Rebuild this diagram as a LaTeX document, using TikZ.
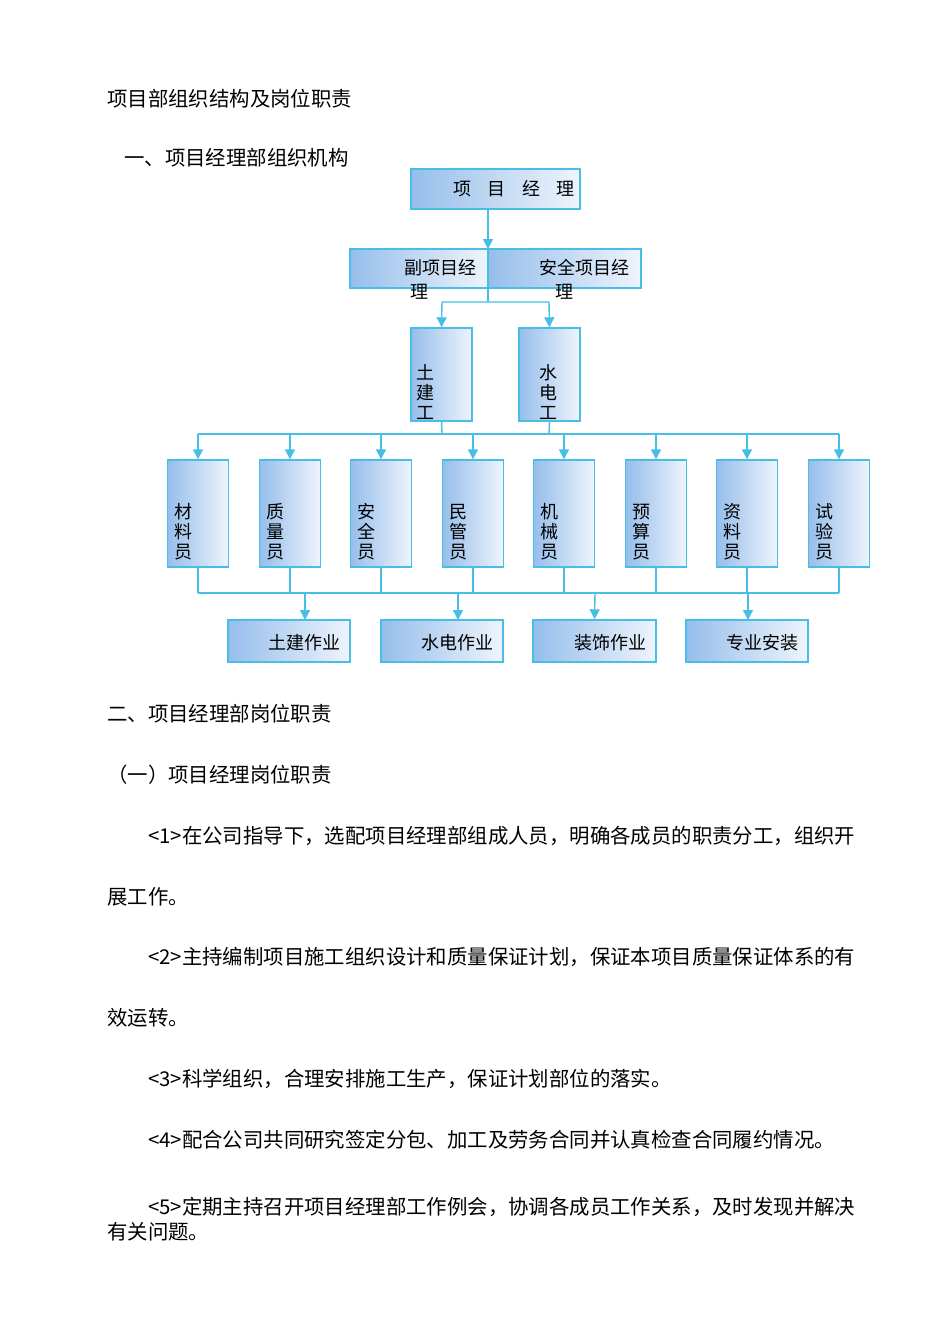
\documentclass[tikz,border=0pt]{standalone}
\usepackage{fontspec}
\setmainfont{Noto Sans CJK SC}
\usetikzlibrary{arrows.meta}
\definecolor{bd}{RGB}{70,190,230}
\definecolor{fa}{RGB}{150,190,235}
\definecolor{fb}{RGB}{238,244,252}
\begin{document}
\begin{tikzpicture}[x=1pt,y=-1pt,
 bx/.style={draw=bd,line width=1.4pt,left color=fa,right color=fb,inner sep=0},
 ln/.style={draw=bd,line width=1.4pt},
 ar/.style={ln,-{Triangle[width=10pt,length=10pt]}},
 tx/.style={font=\fontsize{18}{20}\selectfont,inner sep=0,align=center},
 body/.style={font=\fontsize{20.4}{22}\selectfont,anchor=west,inner sep=0}]
\useasboundingbox (0,0) rectangle (950,1344);
\fill[white] (0,0) rectangle (950,1344);
% top
\node[bx,minimum width=169,minimum height=40] (pm) at (495.5,189) {};
\node[tx] (pmt) at (514,189) {项\hspace{0.9em}目\hspace{0.9em}经\hspace{0.9em}理};
\node[bx,minimum width=138,minimum height=39] (fx) at (419,268.5) {};
\node[bx,minimum width=153,minimum height=39] (aq) at (564.5,268.5) {};
\node[tx,anchor=east] (fxt) at (477,268) {副项目经};
\node[tx] (fxt2) at (419,292) {理};
\node[tx,anchor=east] (aqt) at (630,268) {安全项目经};
\node[tx] (aqt2) at (564,292) {理};
\coordinate (j1) at (488,249);
\draw[ar] (pm.south -| j1) -- (j1);
\coordinate (j2) at (488,288);
\coordinate (j3) at (488,302);
\node[bx,minimum width=61,minimum height=93] (tj) at (441.5,374.5) {};
\node[bx,minimum width=61,minimum height=93] (sd) at (549.5,374.5) {};
\node[tx,anchor=west,align=left] at (416,392) {土\\建\\工};
\node[tx,anchor=west,align=left] at (539,392) {水\\电\\工};
\draw[ln] (j2) -- (j3);
\draw[ar] (j3) -- (442,302) -- (tj.north);
\draw[ar] (j3) -- (549,302) -- (sd.north);
% row 3
\coordinate (h1) at (442,434);
\coordinate (h2) at (549,434);
\draw[ln] (tj.south) -- (h1);
\draw[ln] (sd.south) -- (h2);
\draw[ln] (198,434) -- (839,434);
\foreach \n/\x/\t in {a/198/材\\料\\员, b/290/质\\量\\员, c/381/安\\全\\员, d/473/民\\管\\员, e/564/机\\械\\员, f/656/预\\算\\员, g/747/资\\料\\员, h/839/试\\验\\员}{
 \node[bx,minimum width=61,minimum height=107] (\n) at (\x,513.5) {};
 \node[tx,anchor=west,align=left] (\n t) at (\x-24,532) {\t};
 \draw[ar] (\x,434) -- (\n.north);
 \draw[ln] (\n.south) -- (\x,593);
}
\draw[ln] (198,593) -- (839,593);
\foreach \n/\x/\w/\t in {p/289/122/土建作业, q/442/122/水电作业, r/594.5/123/装饰作业, s/747/122/专业安装}{
 \node[bx,minimum width=\w,minimum height=42] (\n) at (\x,641) {};
 \node[tx,anchor=east] (\n t) at (\x+\w/2-9,643) {\t};
}
\draw[ar] (305,593) -- (305,620);
\draw[ar] (458,593) -- (458,620);
\draw[ar] (595,593) -- (r.north);
\draw[ar] (748,593) -- (748,620);
% body text
\node[body] at (107,99) {项目部组织结构及岗位职责};
\node[body] at (124,158) {一、项目经理部组织机构};
\node[body] at (107,714) {二、项目经理部岗位职责};
\node[body] at (107,775) {（一）项目经理岗位职责};
\node[body] at (148,836) {<1>在公司指导下，选配项目经理部组成人员，明确各成员的职责分工，组织开};
\node[body] at (107,897) {展工作。};
\node[body] at (148,957) {<2>主持编制项目施工组织设计和质量保证计划，保证本项目质量保证体系的有};
\node[body] at (107,1018) {效运转。};
\node[body] at (148,1079) {<3>科学组织，合理安排施工生产，保证计划部位的落实。};
\node[body] at (148,1140) {<4>配合公司共同研究签定分包、加工及劳务合同并认真检查合同履约情况。};
\node[body] at (148,1207) {<5>定期主持召开项目经理部工作例会，协调各成员工作关系，及时发现并解决};
\node[body] at (107,1232) {有关问题。};
\end{tikzpicture}
\end{document}
